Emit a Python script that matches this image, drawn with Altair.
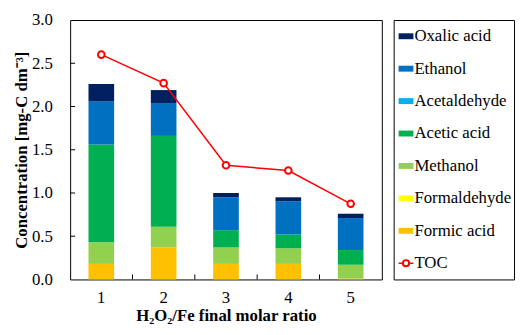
import altair as alt
import pandas as pd

ratios = [1, 2, 3, 4, 5]
formic = [0.18, 0.37, 0.18, 0.18, 0.01]
formaldehyde = [0.0, 0.0, 0.0, 0.0, 0.0]
methanol = [0.25, 0.24, 0.19, 0.18, 0.16]
acetic = [1.13, 1.05, 0.20, 0.16, 0.17]
acetaldehyde = [0.0, 0.0, 0.0, 0.0, 0.0]
ethanol = [0.50, 0.38, 0.38, 0.385, 0.37]
oxalic = [0.20, 0.15, 0.05, 0.045, 0.05]
toc = [2.60, 2.27, 1.32, 1.26, 0.875]

stack_names = ["Formic acid", "Formaldehyde", "Methanol", "Acetic acid",
               "Acetaldehyde", "Ethanol", "Oxalic acid"]
stack_values = [formic, formaldehyde, methanol, acetic, acetaldehyde, ethanol, oxalic]

legend_names = ["Oxalic acid", "Ethanol", "Acetaldehyde", "Acetic acid",
                "Methanol", "Formaldehyde", "Formic acid", "TOC"]
legend_colors = ["#002060", "#0070C0", "#00B0F0", "#00B050",
                 "#92D050", "#FFFF00", "#FFC000", "#FF0000"]

y_ticks = [0.0, 0.5, 1.0, 1.5, 2.0, 2.5, 3.0]
inner_y_ticks = [0.5, 1.0, 1.5, 2.0, 2.5]
inner_x_ticks = [1, 2, 3, 4]

FONT = "Liberation Serif"
W, H = 316, 263

rows = []
for i, (name, vals) in enumerate(zip(stack_names, stack_values)):
    for r, v in zip(ratios, vals):
        rows.append({"ratio": r, "name": name, "value": v, "idx": i})
bars_df = pd.DataFrame(rows)
toc_df = pd.DataFrame({"ratio": ratios, "toc": toc})
ytick_df = pd.DataFrame({"v": inner_y_ticks})
xtick_df = pd.DataFrame({"ratio": inner_x_ticks})
legend_df = pd.DataFrame({"name": legend_names})

color_scale = alt.Scale(domain=legend_names, range=legend_colors)
x_scale = alt.Scale(domain=ratios, paddingInner=0, paddingOuter=0)
y_scale = alt.Scale(domain=[0, 3], nice=False)

x_enc = alt.X("ratio:O", scale=x_scale,
              axis=alt.Axis(title="H₂O₂/Fe final molar ratio", labelAngle=0,
                            ticks=False, domain=False, labelPadding=10,
                            titlePadding=3, titleFontWeight="bold"))

bars = alt.Chart(bars_df).mark_bar(size=26).encode(
    x=x_enc,
    y=alt.Y("value:Q", stack="zero", scale=y_scale,
            axis=alt.Axis(title="Concentration [mg-C dm⁻³]", values=y_ticks,
                          format=".1f", grid=False, ticks=False, domain=False,
                          labelPadding=18, titlePadding=1,
                          titleFontWeight="bold")),
    color=alt.Color("name:N", scale=color_scale, legend=None),
    order=alt.Order("idx:Q"),
)

yticks = alt.Chart(ytick_df).mark_rule(color="black", strokeWidth=1).encode(
    y=alt.Y("v:Q", scale=y_scale),
    x=alt.value(0), x2=alt.value(5),
)

xticks = alt.Chart(xtick_df).mark_rule(color="black", strokeWidth=1).encode(
    x=alt.X("ratio:O", scale=x_scale, bandPosition=1),
    y=alt.value(H), y2=alt.value(H - 5),
)

line = alt.Chart(toc_df).mark_line(color="#FF0000", strokeWidth=1.5).encode(
    x=alt.X("ratio:O", scale=x_scale),
    y=alt.Y("toc:Q", scale=y_scale),
)
pts = alt.Chart(toc_df).mark_point(shape="circle", filled=False, fill="white",
                                   stroke="#FF0000", strokeWidth=2, size=45,
                                   opacity=1).encode(
    x=alt.X("ratio:O", scale=x_scale),
    y=alt.Y("toc:Q", scale=y_scale),
)

main = alt.layer(bars, yticks, xticks, line, pts).properties(width=W, height=H)

ly = alt.Y("name:N", sort=legend_names, axis=None,
           scale=alt.Scale(domain=legend_names, paddingInner=0, paddingOuter=0))

leg_base = alt.Chart(legend_df)
leg_sym = leg_base.transform_filter(alt.datum.name != "TOC").mark_point(
    shape="M-1,-0.4L1,-0.4L1,0.4L-1,0.4Z", filled=True, opacity=1, size=225
).encode(x=alt.value(12.5), y=ly,
         color=alt.Color("name:N", scale=color_scale, legend=None))
leg_line = leg_base.transform_filter(alt.datum.name == "TOC").mark_rule(
    color="#FF0000", strokeWidth=1.5
).encode(x=alt.value(5), x2=alt.value(20), y=ly)
leg_circ = leg_base.transform_filter(alt.datum.name == "TOC").mark_point(
    shape="circle", filled=False, fill="white", stroke="#FF0000",
    strokeWidth=2, size=40, opacity=1
).encode(x=alt.value(12.5), y=ly)
leg_text = leg_base.mark_text(align="left", baseline="middle", fontSize=17,
                              font=FONT, color="black").encode(
    x=alt.value(21), y=ly, text="name:N")

legend = alt.layer(leg_sym, leg_line, leg_circ, leg_text).properties(width=122, height=H)

chart = alt.hconcat(main, legend, spacing=10).properties(
    padding={"left": 4, "top": 0, "right": 0, "bottom": 0}
).configure(font=FONT).configure_view(
    stroke="black", strokeWidth=1
).configure_axis(
    labelFont=FONT, titleFont=FONT, labelFontSize=17, titleFontSize=17,
    labelColor="black", titleColor="black"
)

chart.save("out.html", embed_options={"renderer": "svg", "actions": False})
